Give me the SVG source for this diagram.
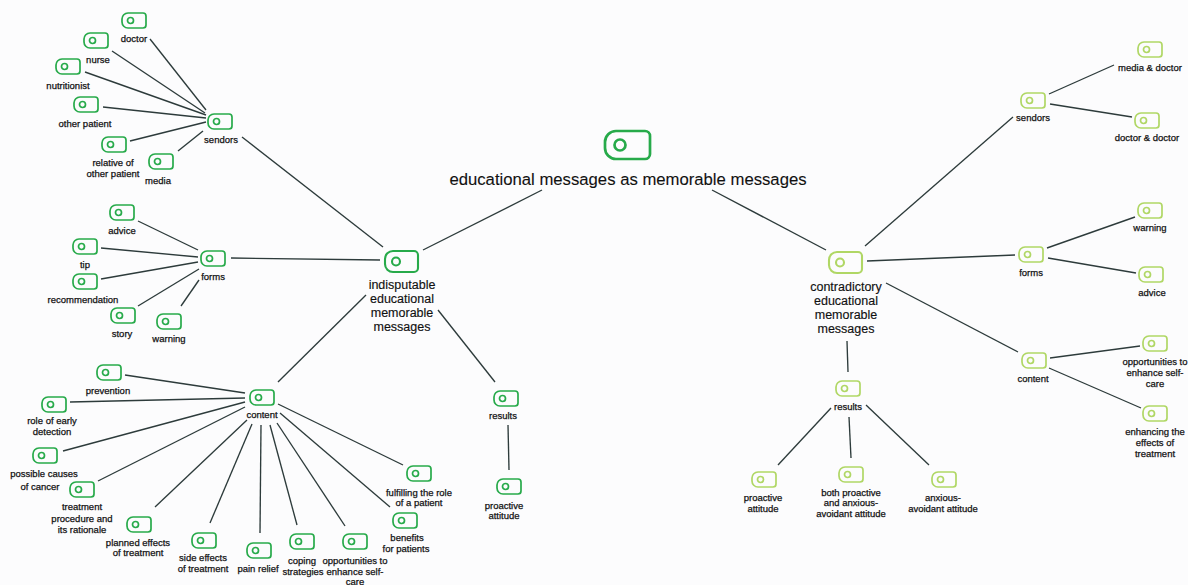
<svg xmlns="http://www.w3.org/2000/svg" xmlns:xlink="http://www.w3.org/1999/xlink" width="1188" height="585" viewBox="0 0 1188 585">
<style>
.t{font-family:"Liberation Sans",Arial,sans-serif;font-size:9.5px;fill:#111;stroke:#111;stroke-width:0.25;text-anchor:middle}
.m{font-size:12.5px;stroke-width:0.15}
.h{font-size:16.7px;stroke-width:0.1}
.L{stroke:#27aa4a}
.R{stroke:#b0d765}
#edges line{stroke:#2d3b3b;stroke-width:1.35}
</style>
<defs>
<g id="sm" fill="none" stroke-width="1.7"><path d="M6,0 H21 A3,3 0 0 1 24,3 V12 A3,3 0 0 1 21,15 H6 A6,6 0 0 1 0,9 V6 A6,6 0 0 1 6,0 Z"/><circle cx="8.5" cy="7.5" r="3"/></g>
<g id="md" fill="none" stroke-width="2.1"><path d="M8,0 H29 A4,4 0 0 1 33,4 V17 A4,4 0 0 1 29,21 H8 A8,8 0 0 1 0,13 V8 A8,8 0 0 1 8,0 Z"/><circle cx="11" cy="10.5" r="4"/></g>
<g id="lg" fill="none" stroke-width="2.7"><path d="M11,0 H40 A5,5 0 0 1 45,5 V23 A5,5 0 0 1 40,28 H11 A11,11 0 0 1 0,17 V11 A11,11 0 0 1 11,0 Z"/><circle cx="15" cy="14" r="5.5"/></g>
</defs>
<rect width="1188" height="585" fill="#fcfcfd"/>
<g id="edges">
<line x1="542" y1="190" x2="423" y2="250"/>
<line x1="712" y1="190" x2="826" y2="250"/>
<line x1="383" y1="247" x2="242" y2="137"/>
<line x1="380" y1="260" x2="231" y2="258"/>
<line x1="366" y1="295" x2="278" y2="382"/>
<line x1="438" y1="310" x2="495" y2="382"/>
<line x1="508" y1="425" x2="509" y2="470"/>
<line x1="206" y1="110" x2="150" y2="39"/>
<line x1="205" y1="113" x2="112" y2="51"/>
<line x1="206" y1="115" x2="85" y2="72"/>
<line x1="206" y1="118" x2="103" y2="107"/>
<line x1="206" y1="122" x2="130" y2="141"/>
<line x1="203" y1="131" x2="178" y2="151"/>
<line x1="198" y1="250" x2="138" y2="221"/>
<line x1="198" y1="257" x2="101" y2="248"/>
<line x1="198" y1="262" x2="101" y2="279"/>
<line x1="199" y1="269" x2="138" y2="306"/>
<line x1="199" y1="280" x2="181" y2="306"/>
<line x1="245" y1="393" x2="125" y2="375"/>
<line x1="245" y1="398" x2="70" y2="402"/>
<line x1="245" y1="402" x2="63" y2="451"/>
<line x1="245" y1="407" x2="98" y2="481"/>
<line x1="247" y1="420" x2="155" y2="507"/>
<line x1="252" y1="424" x2="210" y2="523"/>
<line x1="261" y1="425" x2="260" y2="533"/>
<line x1="270" y1="425" x2="297" y2="525"/>
<line x1="277" y1="423" x2="345" y2="526"/>
<line x1="280" y1="413" x2="390" y2="507"/>
<line x1="278" y1="404" x2="403" y2="465"/>
<line x1="865" y1="246" x2="1013" y2="117"/>
<line x1="867" y1="261" x2="1015" y2="255"/>
<line x1="886" y1="283" x2="1018" y2="352"/>
<line x1="847" y1="341" x2="848" y2="372"/>
<line x1="1049" y1="94" x2="1114" y2="65"/>
<line x1="1050" y1="104" x2="1132" y2="117"/>
<line x1="1047" y1="248" x2="1135" y2="217"/>
<line x1="1048" y1="258" x2="1136" y2="273"/>
<line x1="1050" y1="358" x2="1140" y2="346"/>
<line x1="1049" y1="368" x2="1141" y2="408"/>
<line x1="831" y1="408" x2="778" y2="465"/>
<line x1="849" y1="417" x2="851" y2="458"/>
<line x1="866" y1="405" x2="929" y2="465"/>
</g>
<g id="root"><use href="#lg" x="605" y="131" class="L"/><text class="t h" x="628" y="185">educational messages as memorable messages</text></g>
<g id="indisputable"><use href="#md" x="385" y="251" class="L"/><text class="t m" x="402" y="289">indisputable</text><text class="t m" x="402" y="303">educational</text><text class="t m" x="402" y="317">memorable</text><text class="t m" x="402" y="331">messages</text></g>
<g id="contradictory"><use href="#md" x="829" y="252" class="R"/><text class="t m" x="846" y="291">contradictory</text><text class="t m" x="846" y="305">educational</text><text class="t m" x="846" y="319">memorable</text><text class="t m" x="846" y="333">messages</text></g>
<g id="l-senders"><use href="#sm" x="208" y="114" class="L"/><text class="t" x="221" y="143">sendors</text></g>
<g id="l-doctor"><use href="#sm" x="122" y="13" class="L"/><text class="t" x="134" y="42">doctor</text></g>
<g id="l-nurse"><use href="#sm" x="84" y="33" class="L"/><text class="t" x="98" y="63">nurse</text></g>
<g id="l-nutritionist"><use href="#sm" x="56" y="59" class="L"/><text class="t" x="68" y="89">nutritionist</text></g>
<g id="l-otherpatient"><use href="#sm" x="74" y="97" class="L"/><text class="t" x="85" y="127">other patient</text></g>
<g id="l-relative"><use href="#sm" x="102" y="137" class="L"/><text class="t" x="113" y="166">relative of</text><text class="t" x="113" y="177">other patient</text></g>
<g id="l-media"><use href="#sm" x="149" y="154" class="L"/><text class="t" x="158" y="184">media</text></g>
<g id="l-forms"><use href="#sm" x="201" y="251" class="L"/><text class="t" x="213" y="280">forms</text></g>
<g id="l-advice"><use href="#sm" x="110" y="205" class="L"/><text class="t" x="122" y="234">advice</text></g>
<g id="l-tip"><use href="#sm" x="73" y="239" class="L"/><text class="t" x="85" y="268">tip</text></g>
<g id="l-recommendation"><use href="#sm" x="73" y="274" class="L"/><text class="t" x="83" y="303">recommendation</text></g>
<g id="l-story"><use href="#sm" x="111" y="308" class="L"/><text class="t" x="122" y="337">story</text></g>
<g id="l-warning"><use href="#sm" x="157" y="314" class="L"/><text class="t" x="169" y="342">warning</text></g>
<g id="l-content"><use href="#sm" x="250" y="390" class="L"/><text class="t" x="262" y="418">content</text></g>
<g id="l-prevention"><use href="#sm" x="97" y="365" class="L"/><text class="t" x="108" y="394">prevention</text></g>
<g id="l-role"><use href="#sm" x="42" y="397" class="L"/><text class="t" x="52" y="424">role of early</text><text class="t" x="52" y="435">detection</text></g>
<g id="l-causes"><use href="#sm" x="33" y="448" class="L"/><text class="t" x="44" y="477">possible causes</text><text class="t" x="40" y="490">of cancer</text></g>
<g id="l-treatment"><use href="#sm" x="70" y="482" class="L"/><text class="t" x="82" y="510">treatment</text><text class="t" x="82" y="522">procedure and</text><text class="t" x="82" y="533">its rationale</text></g>
<g id="l-planned"><use href="#sm" x="127" y="517" class="L"/><text class="t" x="138" y="546">planned effects</text><text class="t" x="138" y="556">of treatment</text></g>
<g id="l-side"><use href="#sm" x="192" y="533" class="L"/><text class="t" x="203" y="561">side effects</text><text class="t" x="203" y="572">of treatment</text></g>
<g id="l-pain"><use href="#sm" x="247" y="543" class="L"/><text class="t" x="258" y="572">pain relief</text></g>
<g id="l-coping"><use href="#sm" x="290" y="534" class="L"/><text class="t" x="302" y="564">coping</text><text class="t" x="303" y="575">strategies</text></g>
<g id="l-opportunities"><use href="#sm" x="343" y="534" class="L"/><text class="t" x="355" y="564">opportunities to</text><text class="t" x="355" y="575">enhance self-</text><text class="t" x="355" y="585">care</text></g>
<g id="l-fulfilling"><use href="#sm" x="407" y="466" class="L"/><text class="t" x="419" y="496">fulfilling the role</text><text class="t" x="419" y="506">of a patient</text></g>
<g id="l-benefits"><use href="#sm" x="393" y="513" class="L"/><text class="t" x="407" y="541">benefits</text><text class="t" x="406" y="552">for patients</text></g>
<g id="l-results"><use href="#sm" x="494" y="391" class="L"/><text class="t" x="503" y="419">results</text></g>
<g id="l-proactive"><use href="#sm" x="497" y="479" class="L"/><text class="t" x="504" y="509">proactive</text><text class="t" x="504" y="519">attitude</text></g>
<g id="r-senders"><use href="#sm" x="1021" y="93" class="R"/><text class="t" x="1033" y="121">sendors</text></g>
<g id="r-mediadoctor"><use href="#sm" x="1138" y="42" class="R"/><text class="t" x="1150" y="71">media &amp; doctor</text></g>
<g id="r-doctordoctor"><use href="#sm" x="1135" y="113" class="R"/><text class="t" x="1147" y="141">doctor &amp; doctor</text></g>
<g id="r-forms"><use href="#sm" x="1019" y="247" class="R"/><text class="t" x="1031" y="276">forms</text></g>
<g id="r-warning"><use href="#sm" x="1138" y="203" class="R"/><text class="t" x="1150" y="231">warning</text></g>
<g id="r-advice"><use href="#sm" x="1139" y="267" class="R"/><text class="t" x="1152" y="296">advice</text></g>
<g id="r-content"><use href="#sm" x="1022" y="353" class="R"/><text class="t" x="1033" y="382">content</text></g>
<g id="r-opportunities"><use href="#sm" x="1143" y="336" class="R"/><text class="t" x="1155" y="365">opportunities to</text><text class="t" x="1155" y="376">enhance self-</text><text class="t" x="1155" y="387">care</text></g>
<g id="r-enhancing"><use href="#sm" x="1143" y="406" class="R"/><text class="t" x="1155" y="435">enhancing the</text><text class="t" x="1155" y="446">effects of</text><text class="t" x="1155" y="457">treatment</text></g>
<g id="r-results"><use href="#sm" x="836" y="381" class="R"/><text class="t" x="848" y="410">results</text></g>
<g id="r-proactive"><use href="#sm" x="752" y="472" class="R"/><text class="t" x="763" y="501">proactive</text><text class="t" x="763" y="512">attitude</text></g>
<g id="r-both"><use href="#sm" x="839" y="467" class="R"/><text class="t" x="851" y="496">both proactive</text><text class="t" x="851" y="506">and anxious-</text><text class="t" x="851" y="517">avoidant attitude</text></g>
<g id="r-anxious"><use href="#sm" x="932" y="472" class="R"/><text class="t" x="943" y="501">anxious-</text><text class="t" x="943" y="512">avoidant attitude</text></g>
</svg>
